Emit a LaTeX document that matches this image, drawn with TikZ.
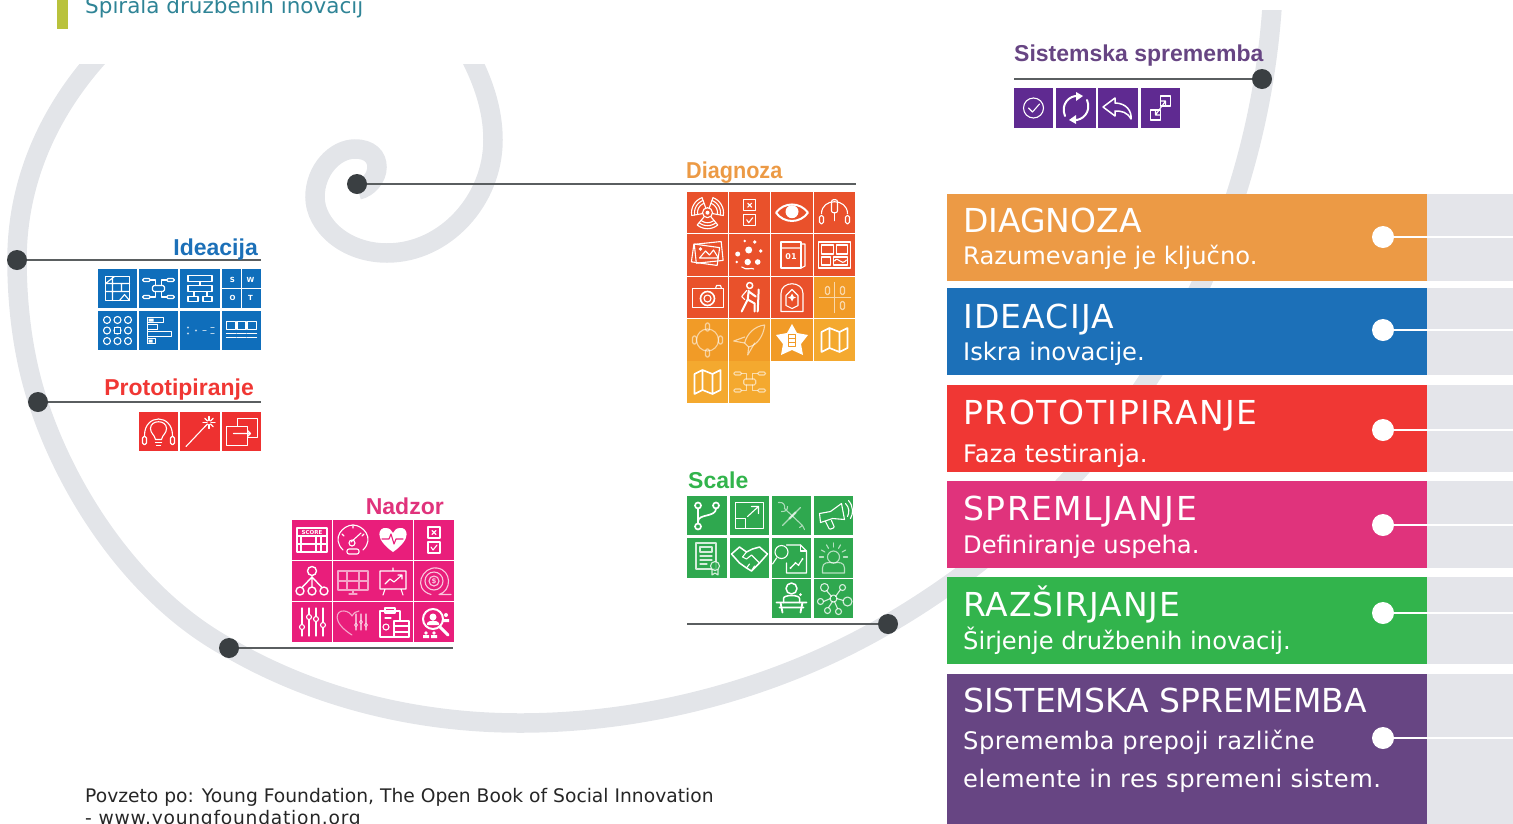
\documentclass[tikz,border=0pt]{standalone}
\usepackage{fontspec}
\setmainfont{DejaVu Sans}
\newfontfamily\labf{Liberation Sans}
\usetikzlibrary{calc}
\definecolor{sp}{HTML}{E3E5E9}
\definecolor{dotc}{HTML}{3A3F42}
\definecolor{linec}{HTML}{5A5E60}
\definecolor{cDr}{HTML}{E9512B}
\definecolor{cDo}{HTML}{F19B27}
\definecolor{cDy}{HTML}{F4A92F}
\definecolor{cI}{HTML}{0F6EBB}
\definecolor{cP}{HTML}{EE3130}
\definecolor{cN}{HTML}{E91E7B}
\definecolor{cS}{HTML}{2FA84F}
\definecolor{cU}{HTML}{5F2A91}
\definecolor{lDi}{HTML}{EC9A45}
\definecolor{lId}{HTML}{1C70B8}
\definecolor{lPr}{HTML}{F03734}
\definecolor{lNa}{HTML}{E0337C}
\definecolor{lSc}{HTML}{32B44C}
\definecolor{lSi}{HTML}{674583}
\definecolor{gp}{HTML}{E4E5EA}
\definecolor{barc}{HTML}{B9C23C}
\definecolor{topc}{HTML}{2F8496}
\tikzset{
 x=1pt,y=-1pt,
 band/.style={draw=sp,line width=19.5pt,line cap=butt},
 tile/.style={draw=none,minimum size=#1,inner sep=0pt},
 hub/.style={circle,fill=dotc,minimum size=20pt,inner sep=0pt},
 leader/.style={draw=linec,line width=1.8pt},
 wdot/.style={circle,fill=white,minimum size=22pt,inner sep=0pt},
 wline/.style={draw=white,line width=2pt},
 panel/.style={rectangle,fill=#1,anchor=north west,inner sep=0pt},
 ttl/.style={anchor=base west,inner sep=0pt,text=white,font=\fontsize{33}{33}\selectfont},
 sbt/.style={anchor=base west,inner sep=0pt,text=white,font=\fontsize{24.2}{25}\selectfont},
 hd/.style={inner sep=0pt,font=\labf\bfseries\fontsize{23}{23}\selectfont},
 ln/.style={draw=white,line width=1.1pt,line join=round,line cap=round,fill=none},
 tx/.style={inner sep=0pt,text=white},
}
\newcommand\LS[1]{\addfontfeature{LetterSpace=#1}}
\newcommand\ic[2]{\tikzset{#1/.pic={\begin{scope}[ln] #2 \end{scope}}}}
\newcommand\capsule[2]{\draw[rounded corners=1.5pt] (#1-2,#2-4) rectangle (#1+2,#2+4);}
\ic{i-fan}{\draw (0,0) circle(5);\fill[white] (0,0) circle(2);\foreach\c in {30,150,270}{\draw[rotate=\c] (-40:5)--(-40:16) (40:5)--(40:16);\foreach\r in {16,13,10}{\draw[rotate=\c] plot[domain=-40:40,samples=9] ({\r*cos(\x)},{\r*sin(\x)});}}}
\ic{i-checks}{\draw (-6,-13) rectangle (6,-2) (-6,2) rectangle (6,13);\draw (-2,-9.5)--(2,-5.5) (2,-9.5)--(-2,-5.5) (-3,7)--(-1,10)--(3,5);}
\ic{i-eye}{\draw[line width=2pt] (-16,0) .. controls (-8,-11) and (8,-11) .. (16,0) .. controls (8,11) and (-8,11) .. (-16,0) -- cycle;\fill[white] (0,-1) circle(6.5);}
\ic{i-mic}{\draw (-13,1) .. controls (-13,-15) and (13,-15) .. (13,1);\capsule{-13}{7}\capsule{13}{7}\draw[rounded corners=2pt] (-3,-13) rectangle (3,0);\draw (0,0)--(0,8);}
\ic{i-photos}{\draw[rotate=-8] (-15,-9) rectangle (11,9);\draw[rotate=6] (-12,-12) rectangle (15,7);\draw (-8,3)--(-2,-4)--(2,0)--(6,-5)--(11,3)--cycle;\fill[white] (-7,-6) circle(1.8);}
\ic{i-scatter}{\fill[white] (-1,-5) circle(3.5) (-12,-1) circle(2.5) (11,-4) circle(1.8) (-5,-14) circle(1.4) (5,-13) circle(1.8) (8,7) circle(2.8) (-2,7) circle(3.2) (-13,7) circle(1.4);\draw (-8,12) .. controls (-3,16) and (2,12) .. (4,14);}
\ic{i-cal}{\draw (-11,-13) rectangle (9,13);\draw (-11,-7)--(9,-7) (9,-11)--(13,-11)--(13,11)--(9,13);\node[tx,font=\bfseries\fontsize{8}{8}\selectfont] at (-1,2) {01};}
\ic{i-board}{\draw (-16,-13) rectangle (16,13) (-13,-10) rectangle (-1,-1) (2,-10) rectangle (13,-1) (-13,2) rectangle (-4,10) (-1,2) rectangle (13,10);\draw (0,6) .. controls (4,0) and (6,12) .. (12,5);}
\ic{i-cam}{\draw (-15,-9) rectangle (16,10);\draw (8,-9)--(9,-12)--(13,-12)--(14,-9);\draw[line width=1.6pt] (0,1) circle(7);\draw (0,1) circle(3.5);}
\ic{i-hiker}{\draw[line width=1.5pt] (0,-12) circle(3);\draw[line width=2pt] (-1,-7)--(-2,2)--(-8,14) (-2,2)--(5,6)--(5,14) (-1,-6)--(6,-1) (9,-8)--(8,14);\draw (-3,-7)--(-8,-1)--(-5,2);}
\ic{i-arch}{\draw (-11,14)--(-11,-4) .. controls (-11,-17) and (11,-17) .. (11,-4)--(11,14)--cycle;\draw (-6,-2)--(0,-8)--(6,-2)--(6,8)--(0,11)--(-6,8)--cycle;\fill[white] (0,-4) -- (1.5,-1) -- (4,0) -- (1.5,1) -- (0,4) -- (-1.5,1) -- (-4,0) -- (-1.5,-1) -- cycle;}
\ic{i-quad}{\draw (-15,0)--(16,0) (0,-15)--(0,15);\capsule{-7}{-7}\capsule{8}{-7}\capsule{8}{8}}
\ic{i-ring}{\draw (0,0) circle(11);\capsule{0}{-13}\capsule{0}{13}\capsule{-13}{0}\capsule{13}{0}}
\ic{i-rocket}{\draw (15,-15) .. controls (5,-14) and (-3,-6) .. (-5,3) -- (-1,7) .. controls (8,5) and (14,-5) .. (15,-15) -- cycle;\draw (-5,-3)--(-16,1)--(-5,3) (5,3)--(-2,15)--(-1,7);}
\ic{i-turtle}{\fill[white] (0,-16) -- (5,-7) -- (16,-5) -- (9,4) -- (11,15) -- (0,10) -- (-11,15) -- (-9,4) -- (-16,-5) -- (-5,-7) -- cycle;\draw[cDo,line width=1pt] (-3.5,-6) rectangle (3.5,6) (-3.5,-2)--(3.5,-2) (-3.5,2)--(3.5,2);}
\ic{i-map}{\draw[line width=1.6pt,line join=round] (-13,-8)--(-5,-12)--(5,-8)--(13,-12)--(13,8)--(5,12)--(-5,8)--(-13,12)--cycle (-5,-12)--(-5,8) (5,-8)--(5,12);}
\ic{i-mind}{\draw[rounded corners=1.5pt] (-6,-3) rectangle (6,3) (-16,-10) rectangle (-8,-7) (8,-10) rectangle (16,-7) (-16,7) rectangle (-8,10) (8,7) rectangle (16,10);\draw (-8,-8.5)--(-3,-8.5)--(-3,-3) (8,-8.5)--(3,-8.5)--(3,-3) (-8,8.5)--(-3,8.5)--(-3,3) (8,8.5)--(3,8.5)--(3,3);}
\ic{i-plan}{\draw (-12,-12) rectangle (12,12);\draw (-12,-5)--(12,-5) (-12,3)--(12,3) (-5,-12)--(-5,12) (4,-5)--(4,3) (-12,-5)--(-3,-12);\draw (2,12)--(7,6)--(12,12);}
\ic{i-hier}{\draw (-12,-13) rectangle (12,-7) (-12,-3) rectangle (12,3) (-12,8) rectangle (-2,13) (3,8) rectangle (12,13);\draw (0,-7)--(0,-3) (-6,3)--(-6,8) (7,3)--(7,8);}
\ic{i-swot}{\draw (-19,0)--(19,0) (0,-19)--(0,19);\node[tx,font=\bfseries\fontsize{7}{7}\selectfont] at (-9,-9) {S};\node[tx,font=\bfseries\fontsize{7}{7}\selectfont] at (9,-9) {W};\node[tx,font=\bfseries\fontsize{7}{7}\selectfont] at (-9,9) {O};\node[tx,font=\bfseries\fontsize{7}{7}\selectfont] at (9,9) {T};}
\ic{i-nine}{\foreach\p in {-10.5,0,10.5}{\foreach\q in {-10.5,0,10.5}{\draw (\p,\q) circle(3.5);}}\fill[cI] (-3.7,-3.7) rectangle (3.7,3.7);\draw (-3,-3) rectangle (3,3);}
\ic{i-bars}{\draw (-11,-13) rectangle (5,-8) (-11,-6) rectangle (-1,-1) (-11,1) rectangle (13,6) (-11,8) rectangle (-3,13);\fill[white] (-10,-12) rectangle (-5,-9) (-10,9) rectangle (-6,12);\draw (-11,-13)--(-11,13);}
\ic{i-dots}{\fill[white] (-12,-3) circle(1.2) (-12,3) circle(1.2) (-4,0) circle(1.2);\draw (3,0)--(6,0) (11,-3)--(14,-3) (11,3)--(14,3);}
\ic{i-three}{\draw (-15,-9) rectangle (-6,-1) (-4.5,-9) rectangle (4.5,-1) (6,-9) rectangle (15,-1);\draw (-15,3)--(-6,3) (-15,7)--(-6,7) (-4.5,3)--(4.5,3) (-4.5,7)--(4.5,7) (6,3)--(15,3) (6,7)--(15,7);}
\ic{i-bulb}{\draw (-14,4) .. controls (-14,-18) and (14,-18) .. (14,4);\capsule{-14}{9}\capsule{14}{9}\draw (-3,8) .. controls (-4,3) and (-8,2) .. (-8,-3) .. controls (-8,-12) and (8,-12) .. (8,-3) .. controls (8,2) and (4,3) .. (3,8) -- cycle;\draw (-3,11)--(3,11) (-2,14)--(2,14);}
\ic{i-wand}{\draw (-14,15)--(5,-5);\foreach\a in {0,45,...,315}{\draw ($(9,-9)+(\a:2)$)--($(9,-9)+(\a:6)$);}}
\ic{i-rects}{\draw (-4,-13) rectangle (16,6);\draw[fill=cP] (-15,-5) rectangle (6,14);\draw (-8,2)--(9,2) (6,-1)--(9,2)--(6,5);}
\ic{i-score}{\draw (-15,-12) rectangle (15,12) (-15,-4)--(15,-4) (-15,4)--(15,4) (-11,-4)--(-11,12) (4,-4)--(4,12) (9,-4)--(9,12);\node[tx,font=\bfseries\fontsize{5.5}{5.5}\selectfont] at (0,-8) {SCORE};}
\ic{i-gauge}{\draw (-10,10) .. controls (-22,-2) and (-10,-15) .. (0,-15) .. controls (10,-15) and (22,-2) .. (10,10);\draw (-11,-6)--(-9,-4) (0,-15)--(0,-12) (11,-6)--(9,-4);\draw (-2,2)--(8,-7);\draw (-1,3) circle(3);\draw[rounded corners=2pt] (-6,9) rectangle (6,14);}
\ic{i-heart}{\fill[white] (0,12) .. controls (-20,-2) and (-14,-13) .. (-7,-12) .. controls (-3,-12) and (-1,-9) .. (0,-7) .. controls (1,-9) and (3,-12) .. (7,-12) .. controls (14,-13) and (20,-2) .. (0,12) -- cycle;\draw[cN] (-11,-1)--(-4,-1)--(-2,-6)--(1,4)--(3,-1)--(10,-1);}
\ic{i-tree}{\draw[line width=1.4pt] (0,-10) circle(4.5) (-12,10) circle(4) (0,10) circle(4) (12,10) circle(4);\draw[line width=1.4pt] (0,-5.5)--(0,6) (0,-4)--(-10,6.5) (0,-4)--(10,6.5);}
\ic{i-hh}{\draw (-15,-10) rectangle (15,9) (-6,-10)--(-6,9) (6,-10)--(6,9) (-15,0)--(-6,0) (-6,0)--(6,0) (6,0)--(15,0) (-4,13)--(4,13) (0,9)--(0,13);}
\ic{i-easel}{\draw (-13,-10) rectangle (13,8) (0,-10)--(0,-13) (-8,8)--(-10,14) (8,8)--(10,14);\draw (-8,3)--(-3,-2)--(1,1)--(9,-6) (5,-6)--(9,-6)--(9,-2);}
\ic{i-spiral}{\draw (0,0) circle(5) (0,0) circle(9) (-3,13.5) .. controls (-22,8) and (-12,-15) .. (3,-13) .. controls (18,-11) and (18,10) .. (5,13.5) -- (17,13.5);\node[tx,font=\bfseries\fontsize{7}{7}\selectfont] at (0,0) {\$};}
\ic{i-sliders}{\foreach\p/\q in {-10/5,-3/-5,4/-3,11/3}{\draw (\p,-14)--(\p,14);\draw[fill=cN] (\p,\q) circle(2.5);}}
\ic{i-heartsl}{\draw (-1,13) .. controls (-22,0) and (-17,-12) .. (-9,-11) .. controls (-5,-11) and (-2,-8) .. (-1,-6) .. controls (1,-9) and (3,-11) .. (6,-11);\foreach\p/\q in {3/3,8/0,13/3}{\draw (\p,-8)--(\p,8);\draw[fill=cN] (\p,\q) circle(1.5);}}
\ic{i-clip}{\draw (-13,-11) rectangle (7,15);\draw (-8,-14) rectangle (2,-9);\draw[fill=cN] (1,-1) rectangle (16,15);\draw (1,4)--(16,4) (1,10)--(16,10);\draw (-7,5) circle(3);\draw (-8,-4)--(-2,-4);}
\ic{i-search}{\fill[white] (-1,-5) circle(3.5) (-7,3)--(-7,1)..controls(-6,-2)and(4,-2)..(5,1)--(5,3)--cycle;\draw[line width=2pt] (-1,-3) circle(10);\draw[line width=3pt] (6,5)--(14,13);\fill[white] (-11,16)--(-11,13)--(-5,13)--(-5,16)--cycle (-3,16)--(-3,13)--(3,13)--(3,16)--cycle;\fill[white] (-8,11) circle(1.8) (0,11) circle(1.8) (12,-7) circle(2) (9,-3)--(15,-3)--(15,0)--(9,0)--cycle;}
\ic{i-fork}{\draw[line width=1.7pt] (-9,-10) circle(3) (9,-10) circle(3) (-9,11) circle(3);\draw[line width=1.7pt] (-9,-7)--(-9,8) (9,-7) .. controls (9,2) and (-9,-2) .. (-9,6);}
\ic{i-expand}{\draw (-4,-13)--(14,-13)--(14,13)--(-4,13) (-14,3)--(-14,-13)--(-4,-13);\draw (-14,3) rectangle (-4,13);\draw (-2,1)--(9,-9) (2,-9)--(9,-9)--(9,-2);}
\ic{i-tools}{\draw (-13,-13) .. controls (-8,-14) and (-6,-10) .. (-7,-7) -- (11,10) (-10,-4) .. controls (-6,-4) and (-4,-5) .. (-4,-9) (11,10)--(13,14) (8,12)--(11,10);\draw[line width=2.2pt] (4,-3)--(-2,3);\draw (9,-8)--(-9,10);}
\ic{i-mega}{\draw (-14,-2)--(-3,-4)--(8,-12)--(11,4)--(-1,3)--(-13,7)--cycle;\draw[rounded corners=1pt] (-8,6)--(-4,14)--(1,12)--(-2,5);\draw (12,-12) .. controls (16,-8) and (16,-3) .. (14,1) (15,-15) .. controls (20,-9) and (20,-2) .. (17,3);}
\ic{i-cert}{\draw (-11,-15) rectangle (9,11);\draw (-7,-11) rectangle (5,-6);\draw (-7,-2)--(5,-2) (-7,2)--(5,2) (-7,6)--(0,6);\draw[fill=cS] (8,8) circle(4.5);\draw (5,12)--(5,17)--(8,15)--(11,17)--(11,12);}
\ic{i-shake}{\draw[line width=1.5pt] (-18,-4)--(-10,-11)--(-3,-6)--(3,-9)--(10,-11)--(18,-4)--(10,5)--(2,13)--(-3,10)--(-10,5)--cycle;\draw (-3,-6)--(-7,-1)--(-3,1)--(2,-3)--(10,5) (-3,10)--(0,6) (2,13)--(5,8);}
\ic{i-docs}{\draw (-5,-13)--(9,-13)--(15,-7)--(15,15)--(-5,15)--(-5,5);\draw (9,-13)--(9,-7)--(15,-7);\draw (-10,-6) circle(6.5) (-15,0)--(-19,6);\draw (-1,10)--(4,5)--(7,7)--(11,1);\fill[white] (-1,10) circle(1.2) (4,5) circle(1.2) (7,7) circle(1.2) (11,1) circle(1.2);}
\ic{i-rays}{\draw (0,-1) circle(6);\draw (-11,15)--(-11,10) .. controls (-11,4) and (-5,4) .. (0,5) .. controls (5,4) and (11,4) .. (11,10)--(11,15)--cycle;\foreach\a in {0,30,...,180}{\draw ($(0,-1)+(-\a:10)$)--($(0,-1)+(-\a:14)$);}}
\ic{i-desk}{\draw[line width=1.5pt] (0,-10) circle(5.5);\draw[line width=1.5pt] (-8,4)--(-8,0) .. controls (-8,-4) and (8,-4) .. (8,0)--(8,4);\fill[white] (9,-4) circle(1.5);\draw[line width=1.8pt] (-15,4)--(15,4) (-12,9)--(12,9) (-11,4)--(-9,14) (11,4)--(9,14);}
\ic{i-net}{\draw (0,0) circle(3.5) (-9,-11) circle(4) (9,-11) circle(3) (-13,3) circle(3) (14,3) circle(4.5) (-6,12) circle(3) (5,13) circle(3);\draw (-2,-2)--(-7,-8) (2,-2)--(7,-9) (-3,0)--(-10,3) (3,0)--(10,2) (-1,3)--(-5,9) (1,3)--(4,10);}
\ic{i-okc}{\draw (0,0) circle(10);\draw (-5,0)--(-1,4)--(6,-4);}
\ic{i-sync}{\draw[line width=2pt] (-11,8) .. controls (-16,-4) and (-6,-13) .. (2,-12) (11,-8) .. controls (16,4) and (6,13) .. (-2,12);\fill[white] (0,-16)--(7,-12)--(0,-7)--cycle (0,16)--(-7,12)--(0,7)--cycle;}
\ic{i-reply}{\draw[line width=1.5pt] (-15,-1)--(-3,-10)--(-3,-5) .. controls (8,-5) and (14,3) .. (13,11) .. controls (9,4) and (4,3) .. (-3,3)--(-3,8)--cycle;}
\ic{i-link}{\draw (-10,2) rectangle (0,12);\draw (0,-12) rectangle (10,-2);\draw (-5,7)--(5,-7) (0,-7)--(5,-7)--(5,-2) (-5,2)--(-5,7)--(0,7);}
\newcommand\tsz{39.5pt}
\newcommand\tile[6]{\node[tile=\tsz,fill=#4] (#1) at (#2,#3) {};\pic[#6] at (#1) {#5};}
\begin{document}
\begin{tikzpicture}
\useasboundingbox (0,0) rectangle (1513,823);
\begin{scope}
\clip (0,64)--(700,64)--(700,10)--(1513,10)--(1513,823)--(0,823)--cycle;
\draw[band] (1273,-10) .. controls (1265,170) and (1185,450) .. (888,624)
  .. controls (780,687) and (650,723) .. (520,723)
  .. controls (410,723) and (310,695) .. (229,648)
  .. controls (140,600) and (70,500) .. (38,402)
  .. controls (24,360) and (17,310) .. (17,260)
  .. controls (17,180) and (50,110) .. (100,55);
\draw[band] (455,30) .. controls (480,70) and (493,105) .. (493,140)
  .. controls (493,200) and (445,253) .. (387,253)
  .. controls (345,253) and (315,225) .. (315,197)
  .. controls (315,170) and (335,149) .. (355,149)
  .. controls (370,149) and (377,157) .. (377,167)
  .. controls (377,178) and (368,188) .. (358,190);
\end{scope}
\node[rectangle,fill=barc,anchor=north west,inner sep=0pt,minimum width=11pt,minimum height=29pt] (bar) at (57,0) {};
\node[anchor=base west,inner sep=0pt,text=topc,font=\fontsize{21.5}{22}\selectfont] (toptitle) at (85,13) {Spirala družbenih inovacij};
\node[anchor=base west,inner sep=0pt,text=black!85,font=\fontsize{18.7}{19}\selectfont] (src1) at (85,802) {Povzeto po: Young Foundation, The Open Book of Social Innovation};
\node[anchor=base west,inner sep=0pt,text=black!85,font=\fontsize{18.7}{19}\selectfont\LS{4}] (src2) at (85,824) {- www.youngfoundation.org};
% leaders
\node[hub] (hD) at (357,184) {};\coordinate (eD) at (856,184);
\node[hub] (hI) at (17,260) {};\coordinate (eI) at (261,260);
\node[hub] (hP) at (38,402) {};\coordinate (eP) at (261,402);
\node[hub] (hN) at (229,648) {};\coordinate (eN) at (453,648);
\node[hub] (hS) at (888,624) {};\coordinate (eS) at (687,624);
\node[hub] (hU) at (1262,79) {};\coordinate (eU) at (1014,79);
\foreach\h/\e in {hD/eD,hI/eI,hP/eP,hN/eN,hS/eS,hU/eU}{\draw[leader] (\h)--(\e);}
% headings
\node[hd,text=lDi,anchor=base west] (lD) at (686,178) {\scalebox{.94}[1]{Diagnoza}};
\node[hd,text=lId,anchor=base east] (lI) at (258,255) {Ideacija};
\node[hd,text=lPr,anchor=base east] (lP) at (254,395) {Prototipiranje};
\node[hd,text=lNa,anchor=base east] (lN) at (444,514) {Nadzor};
\node[hd,text=lSc,anchor=base west] (lS) at (688,488) {Scale};
\node[hd,text=lSi,anchor=base west] (lU) at (1014,61) {Sistemska sprememba};
% Diagnoza tiles
\renewcommand\tsz{41.3pt}
\tile{d1}{707.5}{212.7}{cDr}{i-fan}{}
\tile{d2}{749.7}{212.7}{cDr}{i-checks}{}
\tile{d3}{792}{212.7}{cDr}{i-eye}{}
\tile{d4}{834.5}{212.7}{cDr}{i-mic}{}
\tile{d5}{707.5}{255}{cDr}{i-photos}{}
\tile{d6}{749.7}{255}{cDr}{i-scatter}{}
\tile{d7}{792}{255}{cDr}{i-cal}{}
\tile{d8}{834.5}{255}{cDr}{i-board}{}
\tile{d9}{707.5}{297.5}{cDr}{i-cam}{}
\tile{d10}{749.7}{297.5}{cDr}{i-hiker}{}
\tile{d11}{792}{297.5}{cDr}{i-arch}{}
\tile{d12}{834.5}{297.5}{cDo}{i-quad}{opacity=.6}
\tile{d13}{707.5}{340}{cDo}{i-ring}{opacity=.55}
\tile{d14}{749.7}{340}{cDo}{i-rocket}{opacity=.6}
\tile{d15}{792}{340}{cDo}{i-turtle}{}
\tile{d16}{834.5}{340}{cDy}{i-map}{}
\tile{d17}{707.5}{382}{cDy}{i-map}{}
\tile{d18}{749.7}{382}{cDy}{i-mind}{opacity=.6}
% Ideacija
\renewcommand\tsz{39.5pt}
\tile{a1}{117.5}{288.5}{cI}{i-plan}{}
\tile{a2}{158.5}{288.5}{cI}{i-mind}{}
\tile{a3}{200}{288.5}{cI}{i-hier}{}
\tile{a4}{241.5}{288.5}{cI}{i-swot}{}
\tile{a5}{117.5}{330.5}{cI}{i-nine}{}
\tile{a6}{158.5}{330.5}{cI}{i-bars}{}
\tile{a7}{200}{330.5}{cI}{i-dots}{opacity=.7}
\tile{a8}{241.5}{330.5}{cI}{i-three}{}
% Prototipiranje
\tile{p1}{158.5}{431.5}{cP}{i-bulb}{}
\tile{p2}{200}{431.5}{cP}{i-wand}{}
\tile{p3}{241.5}{431.5}{cP}{i-rects}{}
% Nadzor
\tile{n1}{312}{540}{cN}{i-score}{}
\tile{n2}{353}{540}{cN}{i-gauge}{}
\tile{n3}{393}{540}{cN}{i-heart}{}
\tile{n4}{434}{540}{cN}{i-checks}{}
\tile{n5}{312}{581}{cN}{i-tree}{}
\tile{n6}{353}{581}{cN}{i-hh}{opacity=.6}
\tile{n7}{393}{581}{cN}{i-easel}{}
\tile{n8}{434}{581}{cN}{i-spiral}{opacity=.75}
\tile{n9}{312}{622}{cN}{i-sliders}{}
\tile{n10}{353}{622}{cN}{i-heartsl}{opacity=.6}
\tile{n11}{393}{622}{cN}{i-clip}{}
\tile{n12}{434}{622}{cN}{i-search}{}
% Scale
\tile{s1}{707}{515.5}{cS}{i-fork}{}
\tile{s2}{749.5}{515.5}{cS}{i-expand}{}
\tile{s3}{791.5}{515.5}{cS}{i-tools}{opacity=.6}
\tile{s4}{833.5}{515.5}{cS}{i-mega}{}
\tile{s5}{707}{558}{cS}{i-cert}{opacity=.8}
\tile{s6}{749.5}{558}{cS}{i-shake}{}
\tile{s7}{791.5}{558}{cS}{i-docs}{}
\tile{s8}{833.5}{558}{cS}{i-rays}{opacity=.65}
\tile{s9}{791.5}{598.5}{cS}{i-desk}{}
\tile{s10}{833.5}{598.5}{cS}{i-net}{opacity=.8}
% Sistemska
\tile{u1}{1033.5}{108}{cU}{i-okc}{}
\tile{u2}{1076}{108}{cU}{i-sync}{}
\tile{u3}{1118}{108}{cU}{i-reply}{}
\tile{u4}{1160.5}{108}{cU}{i-link}{}
% right panels
\foreach\n/\t/\h/\c in {1/194/87/lDi,2/288/87/lId,3/385/87/lPr,4/481/87/lNa,5/577/87/lSc,6/674/150/lSi}{
 \node[panel=gp,minimum width=86pt,minimum height=\h pt] (g\n) at (1427,\t) {};
 \node[panel=\c,minimum width=480pt,minimum height=\h pt] (b\n) at (947,\t) {};
}
\foreach\n/\y in {1/237,2/330,3/430,4/525,5/613,6/738}{
 \node[wdot] (w\n) at (1383,\y) {};
 \coordinate (x\n) at (1513,\y);
 \draw[wline] (w\n)--(x\n);
}
\node[ttl] (t1) at (963,232) {DIAGNOZA};
\node[sbt] (s1a) at (963,264) {Razumevanje je ključno.};
\node[ttl,font=\fontsize{33}{33}\selectfont\LS{3.6}] (t2) at (963,328) {IDEACIJA};
\node[sbt] (s2a) at (963,360) {Iskra inovacije.};
\node[ttl,font=\fontsize{33}{33}\selectfont\LS{4.8}] (t3) at (963,424) {PROTOTIPIRANJE};
\node[sbt] (s3a) at (963,462) {Faza testiranja.};
\node[ttl,font=\fontsize{33}{33}\selectfont\LS{4.6}] (t4) at (963,520) {SPREMLJANJE};
\node[sbt] (s4a) at (963,553) {Definiranje uspeha.};
\node[ttl,font=\fontsize{33}{33}\selectfont\LS{3}] (t5) at (963,616) {RAZŠIRJANJE};
\node[sbt] (s5a) at (963,649) {Širjenje družbenih inovacij.};
\node[ttl] (t6) at (963,712) {SISTEMSKA SPREMEMBA};
\node[sbt,font=\fontsize{24.2}{25}\selectfont\LS{2}] (s6a) at (963,749) {Sprememba prepoji različne};
\node[sbt,font=\fontsize{24.2}{25}\selectfont\LS{2}] (s6b) at (963,787) {elemente in res spremeni sistem.};
\end{tikzpicture}
\end{document}
